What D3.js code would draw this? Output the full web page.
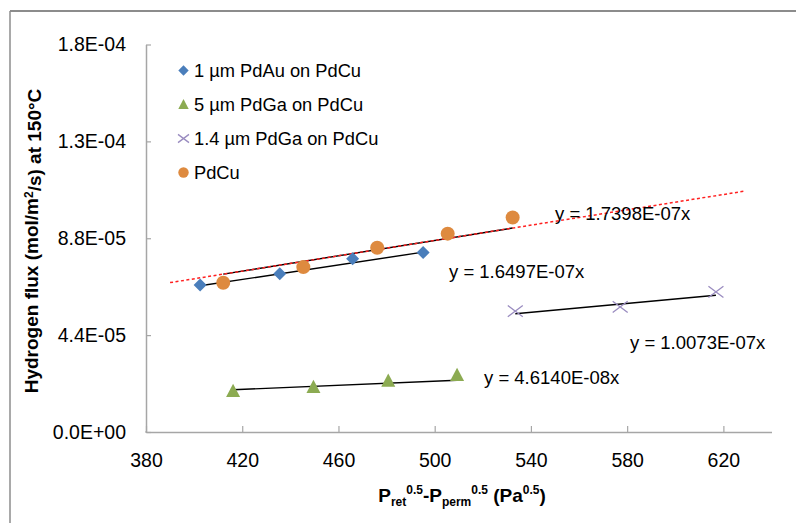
<!DOCTYPE html>
<html><head><meta charset="utf-8">
<script src="https://cdn.jsdelivr.net/npm/d3@7"></script>
<style>
body{margin:0;background:#fff;}
svg{display:block;font-family:"Liberation Sans",Arial,sans-serif;}
</style></head>
<body><svg id="c" width="796" height="523"></svg>
<script>
// ---- data ----
const seriesNames = ["1 µm PdAu on PdCu", "5 µm PdGa on PdCu", "1.4 µm PdGa on PdCu", "PdCu"];
const pdAuX = [402.5, 435.6, 465.9, 495.2];
const pdAuY = [6.68e-5, 7.19e-5, 7.87e-5, 8.15e-5];
const pdGa5X = [416.2, 449.6, 480.7, 509.3];
const pdGa5Y = [1.86e-5, 2.04e-5, 2.32e-5, 2.59e-5];
const pdGa14X = [533.5, 577.1, 616.9];
const pdGa14Y = [5.49e-5, 5.68e-5, 6.36e-5];
const pdCuX = [412.1, 445.4, 476.1, 505.4, 532.4];
const pdCuY = [6.78e-5, 7.49e-5, 8.37e-5, 9.01e-5, 9.74e-5];
const slopes = [1.6497e-7, 4.6140e-8, 1.0073e-7, 1.7398e-7];
const eqLabels = ["y = 1.6497E-07x", "y = 4.6140E-08x", "y = 1.0073E-07x", "y = 1.7398E-07x"];
const forecastRange = [390, 628.5];
const xTicks = [380, 420, 460, 500, 540, 580, 620];
const yTicks = [0, 4.4e-5, 8.8e-5, 1.32e-4, 1.76e-4];
const yTickLabels = ["0.0E+00", "4.4E-05", "8.8E-05", "1.3E-04", "1.8E-04"];

// ---- layout ----
const svg = d3.select("#c");
const x = d3.scaleLinear().domain([380, 640]).range([146, 771.5]);
const y = d3.scaleLinear().domain([0, 1.76e-4]).range([432, 44.5]);
const axisColor = "#a6a6a6";

// outer border (top & left visible)
svg.append("line").attr("x1", 10).attr("x2", 796).attr("y1", 11).attr("y2", 11).attr("stroke", "#8c8c8c").attr("stroke-width", 2);
svg.append("line").attr("x1", 10).attr("x2", 10).attr("y1", 11).attr("y2", 523).attr("stroke", "#8c8c8c").attr("stroke-width", 1.5);

// axes
const gx = svg.append("g").attr("transform", `translate(0,${y(0)})`)
  .call(d3.axisBottom(x).tickValues(xTicks).tickFormat(d3.format("d")).tickSizeInner(-6).tickSizeOuter(0).tickPadding(21));
const gy = svg.append("g").attr("transform", `translate(${x(380)},0)`)
  .call(d3.axisLeft(y).tickValues(yTicks).tickFormat((d, i) => yTickLabels[i]).tickSizeInner(-5).tickSizeOuter(0).tickPadding(20));
[gx, gy].forEach(g => {
  g.select(".domain").attr("stroke", axisColor).attr("stroke-width", 1.5);
  g.selectAll(".tick line").attr("stroke", axisColor).attr("stroke-width", 1.2);
  g.selectAll(".tick text").attr("fill", "#000").style("font-size", "19.5px").style("font-family", '"Liberation Sans",Arial,sans-serif');
});
// extend x axis line to left edge of y axis
svg.append("line").attr("x1", x(380) - 1).attr("x2", x(380)).attr("y1", y(0)).attr("y2", y(0)).attr("stroke", axisColor);

// trendlines (black, within data range)
const allX = [pdAuX, pdGa5X, pdGa14X, pdCuX];
const line = d3.line().x(d => x(d[0])).y(d => y(d[1]));
allX.forEach((xs, i) => {
  const x0 = d3.min(xs), x1 = d3.max(xs);
  svg.append("path").attr("d", line([[x0, slopes[i] * x0], [x1, slopes[i] * x1]]))
    .attr("stroke", "#000").attr("stroke-width", 1.4).attr("fill", "none");
});
// red dotted forecast line for PdCu
svg.append("path").attr("d", line(forecastRange.map(v => [v, slopes[3] * v])))
  .attr("stroke", "#ff2020").attr("stroke-width", 1.5).attr("stroke-dasharray", "3,2.5").attr("fill", "none");

// markers
const colors = ["#4a7ebb", "#8cab52", "#9a8cc0", "#de8a3f"];
function drawMarker(g, type, cx, cy, s) {
  if (type === 0) {
    g.append("path").attr("d", `M${cx},${cy - s}L${cx + s},${cy}L${cx},${cy + s}L${cx - s},${cy}Z`).attr("fill", colors[0]);
  } else if (type === 1) {
    g.append("path").attr("d", `M${cx},${cy - s * 1.05}L${cx + s},${cy + s * 0.85}L${cx - s},${cy + s * 0.85}Z`).attr("fill", colors[1]);
  } else if (type === 2) {
    g.append("path").attr("d", `M${cx - s},${cy - s * 0.75}L${cx + s},${cy + s * 0.75}M${cx - s},${cy + s * 0.75}L${cx + s},${cy - s * 0.75}`)
      .attr("stroke", colors[2]).attr("stroke-width", 1.3).attr("fill", "none");
  } else {
    g.append("circle").attr("cx", cx).attr("cy", cy).attr("r", s).attr("fill", colors[3]);
  }
}
const allY = [pdAuY, pdGa5Y, pdGa14Y, pdCuY];
const sizes = [6.5, 7, 7.5, 7];
const mg = svg.append("g");
allX.forEach((xs, i) => xs.forEach((v, j) => drawMarker(mg, i, x(v), y(allY[i][j]), sizes[i])));

// equation labels
const eqPos = [[449, 272], [484, 377.5], [630, 342.5], [555, 213.5]];
eqLabels.forEach((t, i) => {
  svg.append("text").attr("x", eqPos[i][0]).attr("y", eqPos[i][1]).attr("dy", "0.35em")
    .style("font-size", "18.5px").attr("fill", "#000").text(t);
});

// legend
const legY = [70.5, 104.5, 138.5, 172.5];
const lg = svg.append("g");
seriesNames.forEach((n, i) => {
  drawMarker(lg, i, 183.5, legY[i], i === 2 ? 5.5 : 5.2);
  lg.append("text").attr("x", 194).attr("y", legY[i]).attr("dy", "0.35em")
    .style("font-size", "18.3px").attr("fill", "#000").text(n);
});

// y axis title
const yt = svg.append("text").attr("transform", "translate(38,241) rotate(-90)")
  .attr("text-anchor", "middle").style("font-size", "19px").style("font-weight", "bold");
yt.append("tspan").text("Hydrogen flux (mol/m");
yt.append("tspan").attr("dy", "-0.45em").style("font-size", "12px").text("2");
yt.append("tspan").attr("dy", "0.45em").text("/s) at 150°C");

// x axis title
const xt = svg.append("text").attr("x", 462).attr("y", 502).attr("text-anchor", "middle")
  .style("font-size", "19px").style("font-weight", "bold");
xt.append("tspan").text("P");
xt.append("tspan").attr("dy", "4").style("font-size", "12px").text("ret");
xt.append("tspan").attr("dy", "-12").style("font-size", "12px").text("0.5");
xt.append("tspan").attr("dy", "8").text("-P");
xt.append("tspan").attr("dy", "4").style("font-size", "12px").text("perm");
xt.append("tspan").attr("dy", "-12").style("font-size", "12px").text("0.5");
xt.append("tspan").attr("dy", "8").text(" (Pa");
xt.append("tspan").attr("dy", "-8").style("font-size", "12px").text("0.5");
xt.append("tspan").attr("dy", "8").text(")");
</script></body></html>
